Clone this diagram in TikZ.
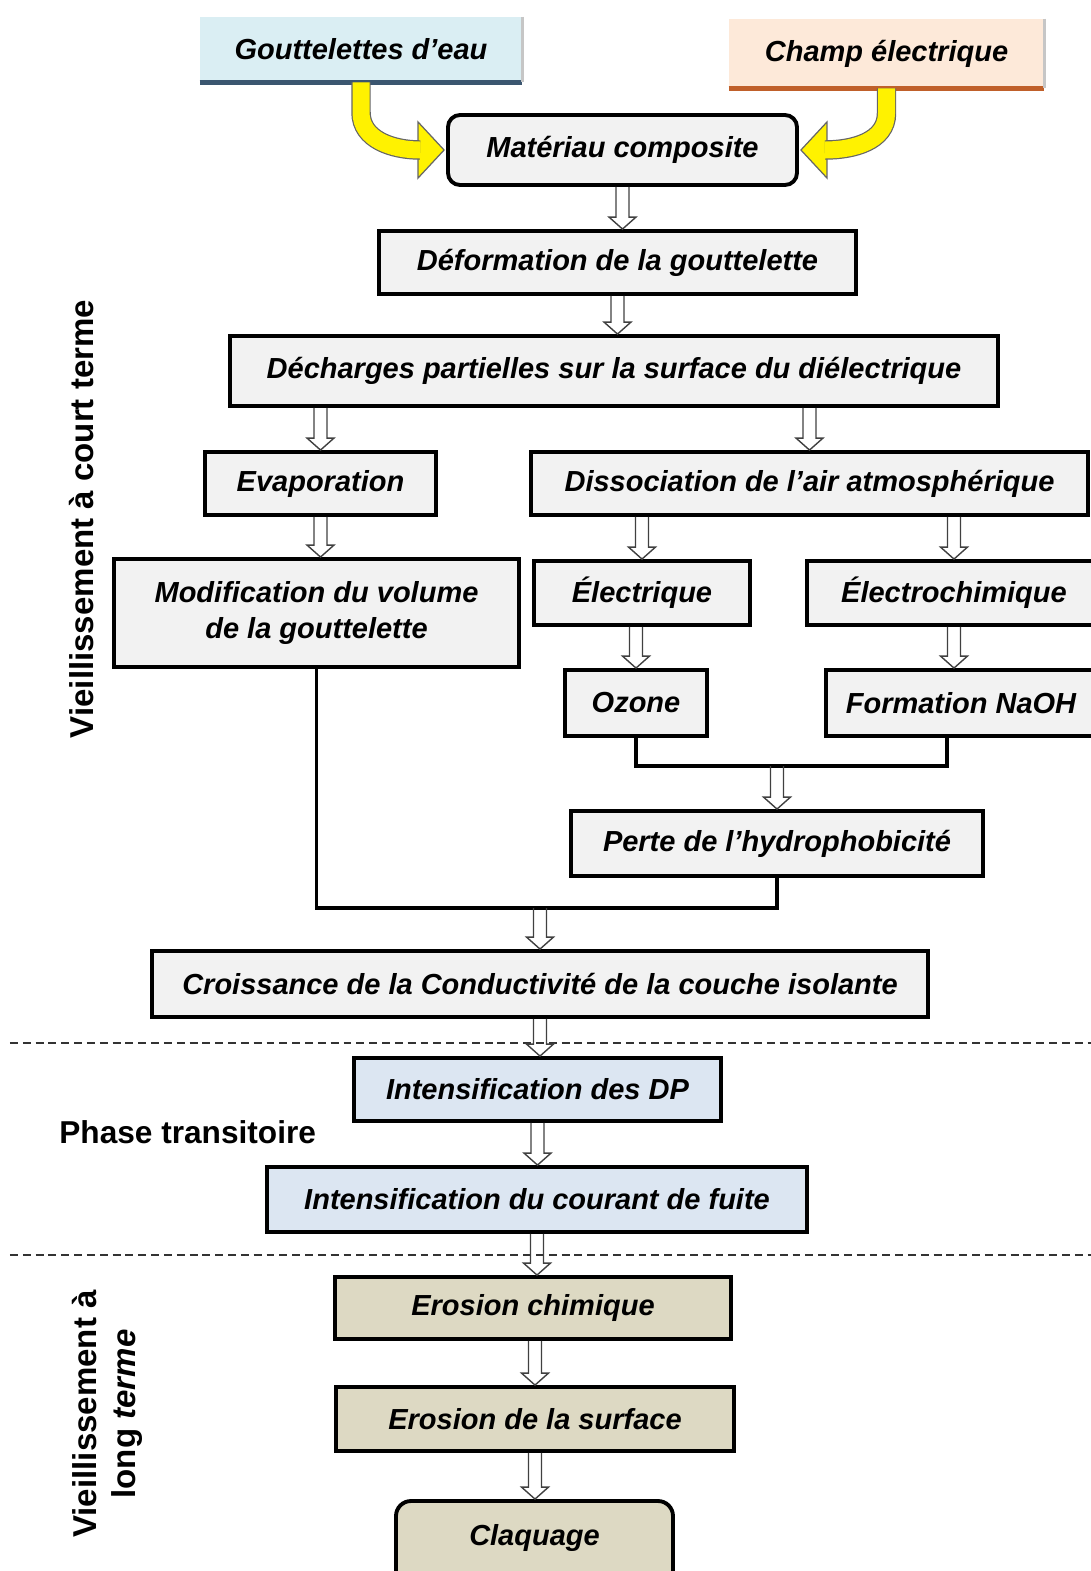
\documentclass[tikz,border=0pt]{standalone}
\usepackage{fontspec}
\setmainfont{Liberation Sans}
\usepackage{xcolor}
\usetikzlibrary{calc}
\definecolor{boxgray}{HTML}{F2F2F2}
\definecolor{boxblue}{HTML}{DCE6F2}
\definecolor{boxtan}{HTML}{DDD9C3}
\definecolor{goutblue}{HTML}{DAEEF3}
\definecolor{goutedge}{HTML}{3B5670}
\definecolor{champfill}{HTML}{FDE9D9}
\definecolor{champedge}{HTML}{C0602A}
\definecolor{arrowgray}{HTML}{404040}
\tikzset{
  box/.style={draw=black, line width=2.2pt, fill=boxgray, inner sep=0pt, align=center,
    font=\bfseries\itshape\fontsize{16.5}{21}\selectfont},
  topbox/.style={inner sep=0pt, font=\bfseries\itshape\fontsize{16.5}{21}\selectfont},
  harrow/.style={draw=arrowgray, line width=0.8pt,
    to path={let \p1=(\tikztostart), \p2=(\tikztotarget) in
      (\x1-0.13cm,\y1) -- (\x1-0.13cm,\y2+0.24cm) -- (\x1-0.27cm,\y2+0.24cm) -- (\x1,\y2)
      -- (\x1+0.27cm,\y2+0.24cm) -- (\x1+0.13cm,\y2+0.24cm) -- (\x1+0.13cm,\y1)}},
  yshaft/.style={draw=black!60, line width=0.7pt, double=yellow, double distance=0.34cm},
  yhead/.style={draw=black!60, line width=0.7pt, fill=yellow},
  link/.style={draw=black, line width=2.2pt},
  sepline/.style={draw=black!80, line width=1.4pt, dash pattern=on 4.5pt off 2.8pt},
  sidelabel/.style={inner sep=0pt, font=\bfseries\fontsize{18.8}{22.2}\selectfont}
}
\begin{document}
\begin{tikzpicture}
\useasboundingbox (0,0) rectangle (21.82,-31.42);
% sources
\node[topbox, fill=goutblue, minimum width=6.44cm, minimum height=1.3cm] (gout) at (7.22,-0.99) {Gouttelettes d’eau};
\draw[line width=3pt, goutedge] (gout.south west) -- (gout.south east);
\draw[line width=2pt, gray!45] (gout.north east) -- (gout.south east);
\node[topbox, fill=champfill, minimum width=6.3cm, minimum height=1.38cm] (champ) at (17.73,-1.07) {Champ électrique};
\draw[line width=3pt, champedge] (champ.south west) -- (champ.south east);
\draw[line width=2pt, gray!45] (champ.north east) -- (champ.south east);
\node[box, rounded corners=0.24cm, minimum width=6.98cm, minimum height=1.4cm] (mat) at (12.45,-3.0) {Matériau composite};
% yellow arrows
\draw[yhead] ($(mat.west)+(-0.56,0.56)$) -- ($(mat.west)+(-0.04,0)$) -- ($(mat.west)+(-0.56,-0.56)$) -- cycle;
\draw[yshaft] (gout.south) -- ++(0,-0.6) to[out=-90,in=180] ($(mat.west)+(-0.52,0)$);
\draw[yhead] ($(mat.east)+(0.56,0.56)$) -- ($(mat.east)+(0.04,0)$) -- ($(mat.east)+(0.56,-0.56)$) -- cycle;
\draw[yshaft] (champ.south) -- ++(0,-0.5) to[out=-90,in=0] ($(mat.east)+(0.52,0)$);
% court terme
\node[box, minimum width=9.54cm, minimum height=1.26cm] (defo) at (12.35,-5.25) {Déformation de la gouttelette};
\node[box, minimum width=15.36cm, minimum height=1.4cm] (dech) at (12.28,-7.42) {Décharges partielles sur la surface du diélectrique};
\node[box, minimum width=4.62cm, minimum height=1.26cm] (evap) at (6.41,-9.67) {Evaporation};
\node[box, minimum width=11.14cm, minimum height=1.26cm] (diss) at (16.19,-9.67) {Dissociation de l’air atmosphérique};
\node[box, minimum width=8.1cm, minimum height=2.16cm] (modif) at (6.33,-12.26) {Modification du volume\\de la gouttelette};
\node[box, minimum width=4.32cm, minimum height=1.28cm] (elec) at (12.84,-11.86) {Électrique};
\node[box, minimum width=5.88cm, minimum height=1.28cm] (echim) at (19.08,-11.86) {Électrochimique};
\node[box, minimum width=2.84cm, minimum height=1.32cm] (ozone) at (12.72,-14.06) {Ozone};
\node[box, minimum width=5.4cm, minimum height=1.32cm] (naoh) at (19.22,-14.06) {Formation NaOH};
\node[box, minimum width=8.24cm, minimum height=1.3cm] (perte) at (15.54,-16.87) {Perte de l’hydrophobicité};
\node[box, minimum width=15.52cm, minimum height=1.32cm] (croi) at (10.8,-19.68) {Croissance de la Conductivité de la couche isolante};
% transitoire et long terme
\node[box, fill=boxblue, minimum width=7.34cm, minimum height=1.26cm] (dp) at (10.75,-21.79) {Intensification des DP};
\node[box, fill=boxblue, minimum width=10.8cm, minimum height=1.3cm] (fuite) at (10.74,-23.99) {Intensification du courant de fuite};
\node[box, fill=boxtan, minimum width=7.92cm, minimum height=1.24cm] (chim) at (10.66,-26.16) {Erosion chimique};
\node[box, fill=boxtan, minimum width=7.96cm, minimum height=1.28cm] (surf) at (10.7,-28.38) {Erosion de la surface};
\node[box, fill=boxtan, rounded corners=0.3cm, minimum width=5.54cm, text height=0.88cm, text depth=1.1cm, anchor=base] (claq) at (10.69,-30.9) {Claquage};
% separations
\draw[sepline] (0.2,-20.86) -- (21.82,-20.86);
\draw[sepline] (0.2,-25.1) -- (21.82,-25.1);
% liaisons
\coordinate (j1) at (15.58,-15.32);
\coordinate (j2) at (10.8,-18.16);
\draw[link] (ozone.south) |- (j1) -| ($(naoh.south)+(-0.28,0)$);
\draw[link] (modif.south) |- (j2) -| (perte.south);
\draw[harrow] (mat.south) to (defo.north);
\draw[harrow] (defo.south) to (dech.north);
\draw[harrow] (evap.north |- dech.south) to (evap.north);
\draw[harrow] (diss.north |- dech.south) to (diss.north);
\draw[harrow] (evap.south) to (modif.north);
\draw[harrow] (elec.north |- diss.south) to (elec.north);
\draw[harrow] (echim.north |- diss.south) to (echim.north);
\draw[harrow] (ozone.north |- elec.south) to (ozone.north);
\draw[harrow] (echim.south) to (naoh.north);
\draw[harrow] (perte.north |- j1) to (perte.north);
\draw[harrow] (croi.north |- j2) to (croi.north);
\draw[harrow] (croi.south) to (dp.north);
\draw[harrow] (dp.south) to (fuite.north);
\draw[harrow] (fuite.south) to (chim.north);
\draw[harrow] (surf.north |- chim.south) to (surf.north);
\draw[harrow] (surf.south) to (claq.north);
% phases
\node[sidelabel, rotate=90] (court) at (1.64,-10.38) {Vieillissement à court terme};
\node[sidelabel, rotate=90, align=center] (long) at (2.14,-28.28) {Vieillissement à\\long \textit{terme}};
\node[sidelabel, anchor=west, font=\bfseries\fontsize{18}{21}\selectfont] (phase) at (1.18,-22.64) {Phase transitoire};
\end{tikzpicture}
\end{document}
